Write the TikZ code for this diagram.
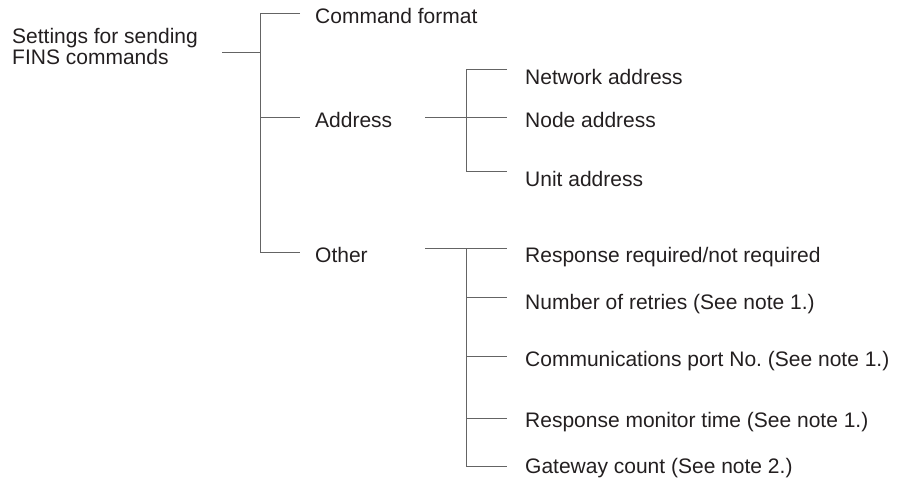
\documentclass[tikz,border=0pt]{standalone}
\usepackage{fontspec}
\setmainfont{Liberation Sans}
\definecolor{txt}{RGB}{35,31,32}
\definecolor{ln}{RGB}{100,100,100}
\frenchspacing
\begin{document}
\begin{tikzpicture}[x=1pt,y=-1pt,
  lbl/.style={anchor=base west,inner sep=0pt,text=txt,font=\fontsize{21}{21.7}\selectfont,align=left},
  conn/.style={draw=ln,line width=1pt}]
\useasboundingbox (0,0) rectangle (902,478);
% texts
\node[lbl] (root) at (12,65) {Settings for sending\\FINS commands};
\node[lbl] (cf) at (315,24) {Command format};
\node[lbl] (addr) at (315,128) {Address};
\node[lbl] (oth) at (315,263) {Other};
\node[lbl] (net) at (525,85) {Network address};
\node[lbl] (nod) at (525,128) {Node address};
\node[lbl] (uni) at (525,187) {Unit address};
\node[lbl] (rr) at (525,263) {Response required/not required};
\node[lbl] (nr) at (525,309) {Number of retries (See note 1.)};
\node[lbl] (cp) at (525,366) {Communications port No.\ (See note 1.)};
\node[lbl] (rm) at (525,427) {Response monitor time (See note 1.)};
\node[lbl] (gc) at (525,473) {Gateway count (See note 2.)};
% junction coordinates
\coordinate (r0) at (222,53);
\coordinate (j0) at (260.5,53);
\coordinate (jt) at (260.5,13.3);
\coordinate (ja) at (260.5,118);
\coordinate (jb) at (260.5,253);
\coordinate (ecf) at (300,13.3);
\coordinate (eaddr) at (300,118);
\coordinate (eoth) at (300,253);
\coordinate (a0) at (425,118);
\coordinate (at) at (466,70);
\coordinate (am) at (466,118);
\coordinate (ab) at (466,172);
\coordinate (enet) at (507,70);
\coordinate (enod) at (507,118);
\coordinate (euni) at (507,172);
\coordinate (o0) at (425,249);
\coordinate (ot) at (466,249);
\coordinate (o1) at (466,298);
\coordinate (o2) at (466,356);
\coordinate (o3) at (466,418);
\coordinate (o4) at (466,466);
\coordinate (err) at (507,249);
\coordinate (enr) at (507,298);
\coordinate (ecp) at (507,356);
\coordinate (erm) at (507,418);
\coordinate (egc) at (507,466);
% connectors
\draw[conn] (r0) -- (j0);
\draw[conn] (ecf) -- (jt) -- (jb) -- (eoth);
\draw[conn] (ja) -- (eaddr);
\draw[conn] (a0) -- (enod);
\draw[conn] (enet) -- (at) -- (ab) -- (euni);
\draw[conn] (o0) -- (err);
\draw[conn] (ot) -- (o4) -- (egc);
\draw[conn] (o1) -- (enr);
\draw[conn] (o2) -- (ecp);
\draw[conn] (o3) -- (erm);
\end{tikzpicture}
\end{document}
